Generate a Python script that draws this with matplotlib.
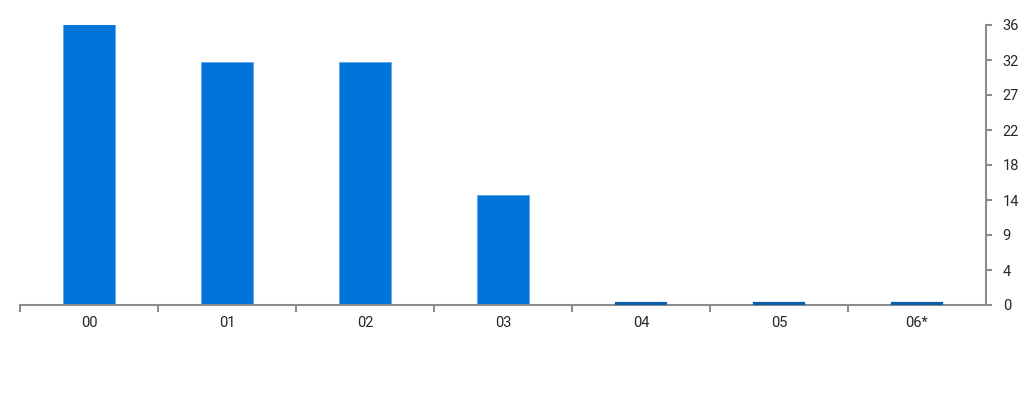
import numpy as np
import matplotlib.pyplot as plt
from matplotlib import font_manager
from matplotlib.ticker import FixedLocator, FuncFormatter

# pick the static Roboto Regular file
roboto = [f.fname for f in font_manager.fontManager.ttflist if f.fname.endswith('Roboto-Regular.ttf')]
if roboto:
    label_font = font_manager.FontProperties(fname=roboto[0], size=10.5)
else:
    label_font = font_manager.FontProperties(family='DejaVu Sans', size=10)

labels = ["00", "01", "02", "03", "04", "05", "06*"]
values = [36.1, 31.2, 31.2, 14.1, 0.2, 0.2, 0.2]

bar_color = "#0074d9"
small_color = "#0b5eae"
axis_color = "#8c8c8c"
text_color = "#262626"

fig = plt.figure(figsize=(10.24, 4.0), dpi=100)
ax = fig.add_axes([20 / 1024, 95 / 400, 966 / 1024, 280 / 400])

x = np.arange(len(labels))
big = [v >= 1 for v in values]
ax.bar(x[big], np.array(values)[big], width=0.38, color=bar_color,
       edgecolor="#5aa6ea", linewidth=0.6, zorder=2)
# tiny bars sit on top of the axis line
small = [not b for b in big]
ax.bar(x[small], np.array(values)[small], width=0.36, color=small_color,
       edgecolor=small_color, linewidth=1.6, zorder=4)

ax.set_xlim(-0.5, len(labels) - 0.5)
ax.set_ylim(0, 36)

# categories: labels in the middle, ticks on the boundaries
ax.set_xticks(x)
ax.set_xticklabels(labels)
ax.xaxis.set_minor_locator(FixedLocator(np.arange(-0.5, len(labels) - 0.5, 1.0)))
ax.tick_params(axis="x", which="major", length=0, pad=8, labelcolor=text_color)
ax.tick_params(axis="x", which="minor", length=5, width=1.5, color=axis_color, direction="out")

# right-hand value axis, 8 steps with rounded labels
ax.yaxis.tick_right()
ax.set_yticks(np.linspace(0, 36, 9))
ax.yaxis.set_major_formatter(FuncFormatter(lambda v, p: str(int(round(v)))))
ax.tick_params(axis="y", length=4, width=1.5, color=axis_color, direction="out", pad=8,
               labelcolor=text_color)

for lab in ax.get_xticklabels() + ax.get_yticklabels():
    lab.set_fontproperties(label_font)

for side in ["top", "left"]:
    ax.spines[side].set_visible(False)
ax.spines["bottom"].set_color(axis_color)
ax.spines["bottom"].set_linewidth(1.5)
ax.spines["bottom"].set_zorder(3)
ax.spines["right"].set_color(axis_color)
ax.spines["right"].set_linewidth(1.5)

fig.savefig("out.png", dpi=100)
